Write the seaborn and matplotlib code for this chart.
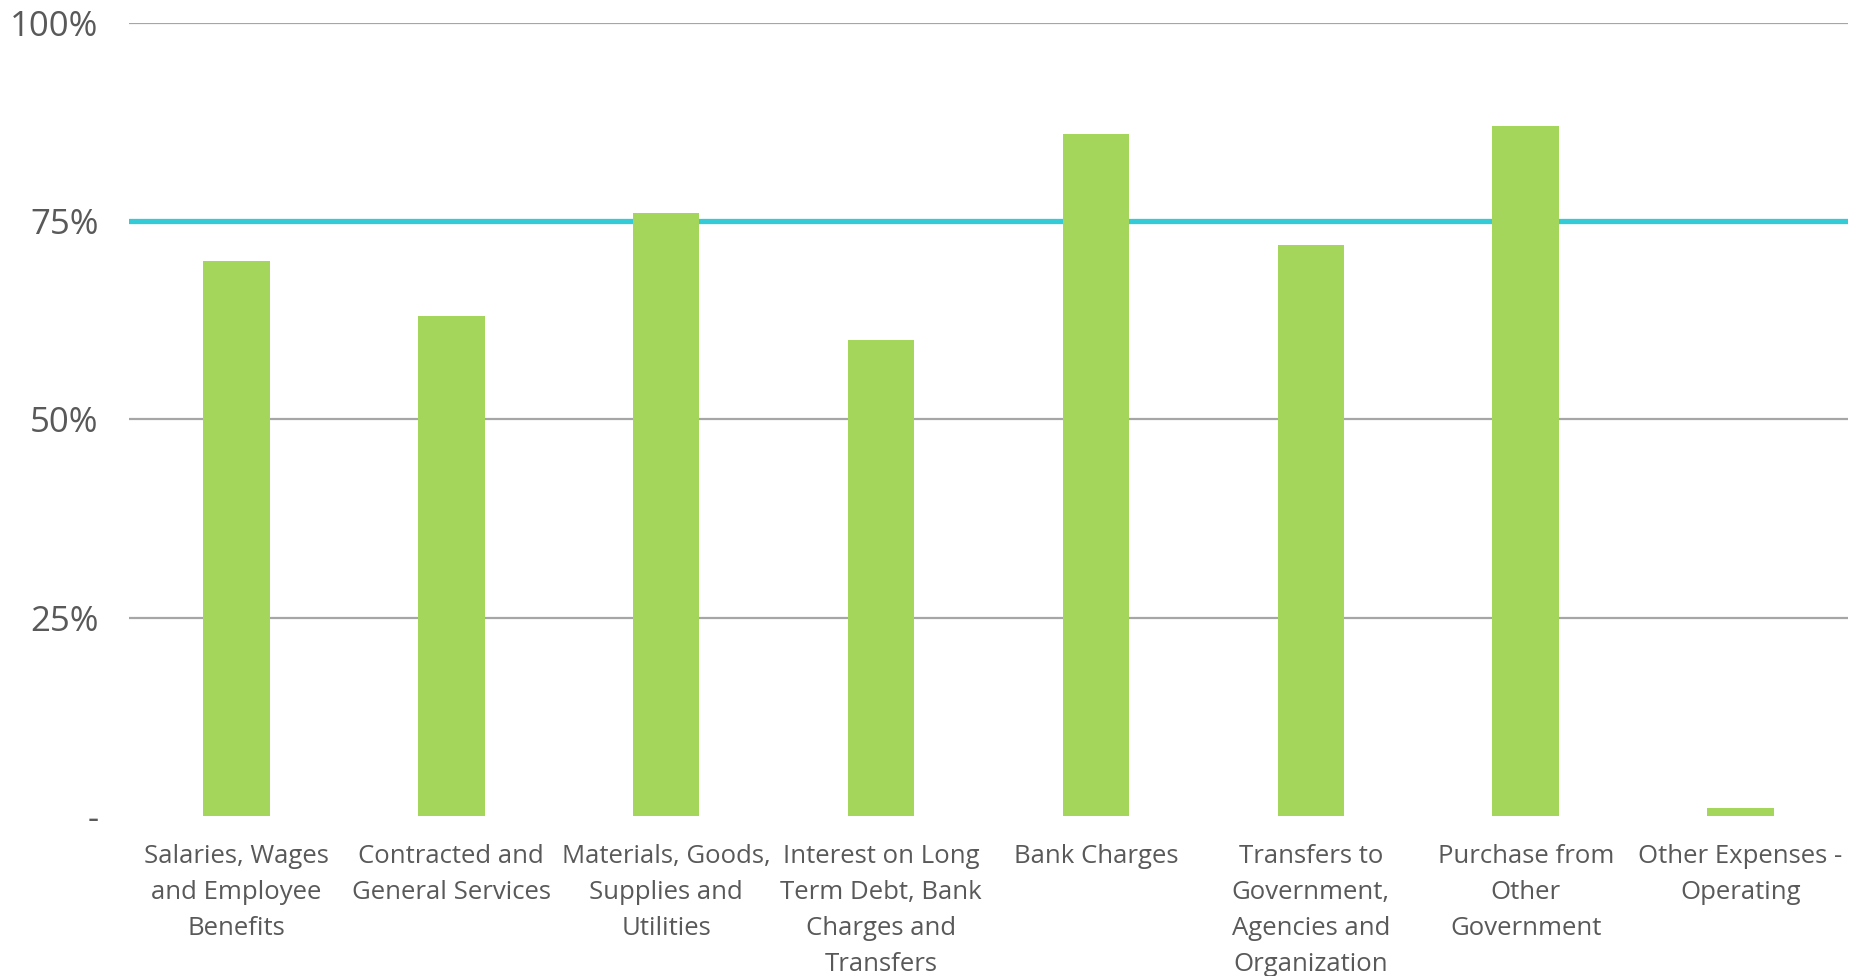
import matplotlib
matplotlib.use("Agg")
import matplotlib.pyplot as plt
import seaborn as sns
import pandas as pd

# ---- data ----
categories = [
    "Salaries, Wages\nand Employee\nBenefits",
    "Contracted and\nGeneral Services",
    "Materials, Goods,\nSupplies and\nUtilities",
    "Interest on Long\nTerm Debt, Bank\nCharges and\nTransfers",
    "Bank Charges",
    "Transfers to\nGovernment,\nAgencies and\nOrganization",
    "Purchase from\nOther\nGovernment",
    "Other Expenses -\nOperating",
]
pct_spent = [70, 63, 76, 60, 86, 72, 87, 1]
target = 75
y_ticks = [0, 25, 50, 75, 100]
y_tick_labels = ["-", "25%", "50%", "75%", "100%"]

df = pd.DataFrame({"category": categories, "pct": pct_spent})

sns.set_style("white")
plt.rcParams["font.family"] = ["Open Sans", "DejaVu Sans"]

fig, ax = plt.subplots(figsize=(18.6, 9.76), dpi=100)
fig.subplots_adjust(left=129 / 1860, right=1848 / 1860, top=1 - 23 / 976, bottom=1 - 816 / 976)

sns.barplot(data=df, x="category", y="pct", color="#A5D65C", width=0.31,
            saturation=1, linewidth=0, ax=ax, zorder=3)

# gridlines (no line at zero)
for t in y_ticks[1:]:
    ax.axhline(t, color="#A6A6A6", lw=1.6, zorder=1)
# target line
ax.axhline(target, color="#33CCD6", lw=3.8, zorder=2)

ax.set_ylim(0, 100)
ax.set_xlim(-0.5, len(categories) - 0.5)
ax.set_yticks(y_ticks)
ax.set_yticklabels(y_tick_labels, fontsize=25, color="#595959")
ax.tick_params(axis="y", length=0, pad=22)
ax.tick_params(axis="x", length=0, pad=20, labelsize=18.5, labelcolor="#595959")
for lbl in ax.get_xticklabels():
    lbl.set_linespacing(1.58)
ax.set_xlabel("")
ax.set_ylabel("")
for s in ax.spines.values():
    s.set_visible(False)

fig.savefig("out.png", dpi=100)
